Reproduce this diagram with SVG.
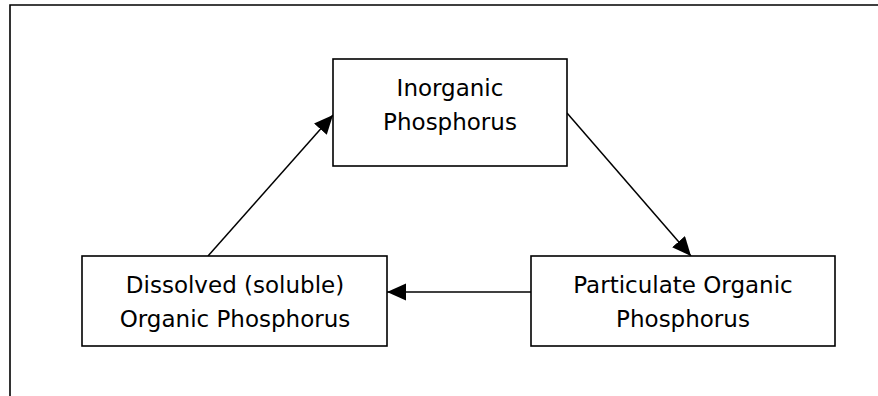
<svg xmlns="http://www.w3.org/2000/svg" width="878" height="396" viewBox="0 0 878 396">
<defs>
<style>
.box{fill:#fff;stroke:#000;stroke-width:1.6}
.lbl{font-family:"Comic Sans MS","DejaVu Sans",sans-serif;font-size:23px;fill:#000;text-anchor:middle}
.conn{stroke:#000;stroke-width:1.5;fill:none;marker-end:url(#ah)}
.frame{stroke:#000;stroke-width:1.6;fill:none}
</style>
<marker id="ah" markerUnits="userSpaceOnUse" markerWidth="20" markerHeight="18" refX="19" refY="8.5" orient="auto">
<path d="M0,0 L19,8.5 L0,17 z" fill="#000"/>
</marker>
</defs>
<rect width="878" height="396" fill="#fff"/>
<g id="frame">
<path class="frame" d="M10,396 L10,5 L878,5"/>
</g>
<g id="connectors">
<line class="conn" x1="208" y1="256" x2="333" y2="115"/>
<line class="conn" x1="567" y1="113" x2="691" y2="256"/>
<line class="conn" x1="531" y1="292" x2="387" y2="292"/>
</g>
<g id="inorganic">
<rect class="box" x="333" y="59" width="234" height="107"/>
<text class="lbl" x="450" y="96">Inorganic</text>
<text class="lbl" x="450" y="130">Phosphorus</text>
</g>
<g id="dissolved">
<rect class="box" x="82" y="256" width="305" height="90"/>
<text class="lbl" x="235" y="293">Dissolved (soluble)</text>
<text class="lbl" x="235" y="327">Organic Phosphorus</text>
</g>
<g id="particulate">
<rect class="box" x="531" y="256" width="304" height="90"/>
<text class="lbl" x="683" y="293">Particulate Organic</text>
<text class="lbl" x="683" y="327">Phosphorus</text>
</g>
</svg>
